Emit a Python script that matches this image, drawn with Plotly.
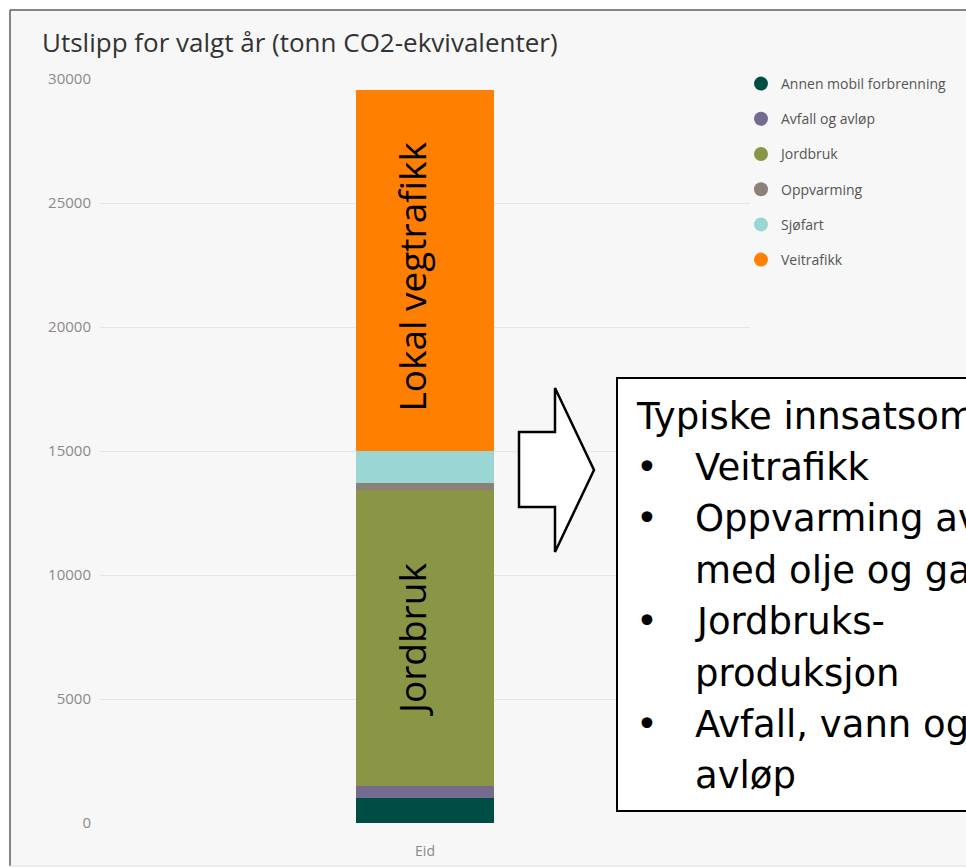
import plotly.graph_objects as go

# Data
categories = ["Eid"]
sectors = ["Annen mobil forbrenning", "Avfall og avløp", "Jordbruk",
           "Oppvarming", "Sjøfart", "Veitrafikk"]
values = [1010, 490, 11920, 295, 1290, 14545]
bar_labels = ["", "", "Jordbruk", "", "", "Lokal vegtrafikk"]
y_ticks = [0, 5000, 10000, 15000, 20000, 25000, 30000]

SECTOR_COLORS = {
    "Annen mobil forbrenning": "#004D45",
    "Avfall og avløp": "#746B8F",
    "Jordbruk": "#8A9645",
    "Oppvarming": "#8B8178",
    "Sjøfart": "#99D6D4",
    "Veitrafikk": "#FF7F00",
}

box_title = "Typiske innsatsområder"
box_items = [["Veitrafikk"], ["Oppvarming av", "med olje og gass"],
             ["Jordbruks-", "produksjon"], ["Avfall, vann og", "avløp"]]

W, H = 966, 868
ML, MR, MT, MB = 100, 216, 79, 45


def px(x):
    return (x - ML) / (W - ML - MR)


def py(y):
    return (H - MB - y) / (H - MT - MB)


fig = go.Figure()

for name, val in zip(sectors, values):
    fig.add_trace(go.Bar(
        x=categories, y=[val], name=name,
        marker=dict(color=SECTOR_COLORS[name], line=dict(width=0)),
        showlegend=False,
    ))

# legend entries drawn as circles
for name in sectors:
    fig.add_trace(go.Scatter(
        x=[None], y=[None], mode="markers", name=name, legendgroup=name,
        marker=dict(symbol="circle", size=14, color=SECTOR_COLORS[name]),
    ))

annotations = []

# vertical labels inside the bar segments
base = 0
for val, lab in zip(values, bar_labels):
    if lab:
        annotations.append(dict(
            x=categories[0], y=base + val / 2, text=lab, textangle=-90,
            showarrow=False, xshift=-13, yshift=-6 if val > 13000 else -2,
            font=dict(family="Open Sans", size=37, color="black"),
        ))
    base += val

shapes = [
    # card background and frame
    dict(type="rect", xref="paper", yref="paper", x0=px(10), x1=px(1000),
         y0=py(866), y1=py(10), fillcolor="#F7F7F7", line=dict(width=0),
         layer="below"),
    dict(type="line", xref="paper", yref="paper", x0=px(10), x1=px(10),
         y0=py(866), y1=py(10), line=dict(color="#5f5f5f", width=1.5)),
    dict(type="line", xref="paper", yref="paper", x0=px(10), x1=px(1000),
         y0=py(10), y1=py(10), line=dict(color="#5f5f5f", width=1.5)),
    dict(type="line", xref="paper", yref="paper", x0=px(10), x1=px(1000),
         y0=py(866), y1=py(866), line=dict(color="#dddddd", width=1)),
    # text box
    dict(type="rect", xref="paper", yref="paper", x0=px(617), x1=px(1010),
         y0=py(811), y1=py(378), fillcolor="white",
         line=dict(color="black", width=2), layer="above"),
]

arrow_pts = [(519, 432), (555, 432), (555, 388), (594, 470),
             (555, 552), (555, 507), (519, 507)]
path = "M " + " L ".join(f"{px(x):.5f},{py(y):.5f}" for x, y in arrow_pts) + " Z"
shapes.append(dict(type="path", xref="paper", yref="paper", path=path,
                   fillcolor="white", line=dict(color="black", width=2.5),
                   layer="above"))

box_font = dict(family="DejaVu Sans", size=37, color="black")
baseline = 428
step = 51.4


def add_line(text, x, k):
    annotations.append(dict(
        xref="paper", yref="paper", x=px(x), y=py(baseline + step * k - 12),
        xanchor="left", yanchor="middle", text=text, showarrow=False,
        font=box_font,
    ))


add_line(box_title, 634, 0)
k = 1
for item in box_items:
    add_line("•", 634, k)
    for line in item:
        add_line(line, 693, k)
        k += 1

fig.update_layout(
    width=W, height=H,
    margin=dict(l=ML, r=MR, t=MT, b=MB),
    paper_bgcolor="white",
    plot_bgcolor="rgba(0,0,0,0)",
    barmode="stack",
    bargap=0.789,
    font=dict(family="Open Sans", color="#888888"),
    title=dict(text="Utslipp for valgt år (tonn CO2-ekvivalenter)",
               xref="container", x=42 / W, xanchor="left",
               yref="container", y=1 - 43 / H, yanchor="middle",
               font=dict(family="Open Sans", size=26, color="#333333")),
    xaxis=dict(showgrid=False, zeroline=False, showline=False,
               automargin=False, ticklabelstandoff=18,
               tickfont=dict(size=14, color="#888888")),
    yaxis=dict(range=[0, 30000], tickvals=y_ticks, tickformat="d",
               showgrid=True, gridcolor="#E6E6E6", gridwidth=1,
               zeroline=False, showline=False, automargin=False,
               ticklabelstandoff=8,
               tickfont=dict(size=15, color="#8a8a8a")),
    legend=dict(x=px(741), xanchor="left", y=py(68), yanchor="top",
                traceorder="grouped", tracegroupgap=14,
                bgcolor="rgba(0,0,0,0)",
                font=dict(family="Open Sans", size=14, color="#555555")),
    shapes=shapes,
    annotations=annotations,
)

fig.write_html("out.html", config={"displayModeBar": False},
               post_script="document.body.style.margin='0';")
